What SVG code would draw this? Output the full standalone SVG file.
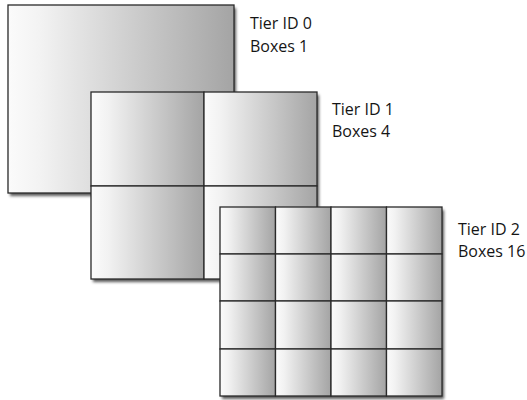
<svg xmlns="http://www.w3.org/2000/svg" width="527" height="400" viewBox="0 0 527 400">
  <defs>
    <linearGradient id="g" x1="0" y1="0" x2="1" y2="0">
      <stop offset="0" stop-color="#fbfbfb"/>
      <stop offset="0.15" stop-color="#f2f2f2"/>
      <stop offset="1" stop-color="#a4a4a4"/>
    </linearGradient>
    <filter id="sh" x="-10%" y="-10%" width="125%" height="125%">
      <feDropShadow dx="2" dy="3" stdDeviation="1.8" flood-color="#000" flood-opacity="0.65"/>
    </filter>
  </defs>
  <style>
    .cell { fill: url(#g); stroke: #2a2a2a; stroke-width: 1.3; }
    .frame { fill: #fff; filter: url(#sh); }
    .lbl { font-family: "Open Sans", "Liberation Sans", sans-serif; font-size: 16px; fill: #151515; }
  </style>
  <rect width="527" height="400" fill="#fff"/>

  <g id="tier0">
    <rect class="frame" x="8" y="5" width="226" height="188"/>
    <rect class="cell" x="8" y="5" width="226" height="188"/>
    <text class="lbl" x="250" y="29">Tier ID 0</text>
    <text class="lbl" x="250" y="52">Boxes 1</text>
  </g>

  <g id="tier1">
    <rect class="frame" x="91" y="92" width="226" height="187"/>
    <rect class="cell" x="91" y="92" width="113" height="94"/>
    <rect class="cell" x="204" y="92" width="113" height="94"/>
    <rect class="cell" x="91" y="186" width="113" height="93"/>
    <rect class="cell" x="204" y="186" width="113" height="93"/>
    <text class="lbl" x="332" y="115">Tier ID 1</text>
    <text class="lbl" x="332" y="137">Boxes 4</text>
  </g>

  <g id="tier2">
    <rect class="frame" x="220" y="207" width="222" height="189"/>
    <rect class="cell" x="220" y="207" width="55.5" height="47"/>
    <rect class="cell" x="275.5" y="207" width="55.5" height="47"/>
    <rect class="cell" x="331" y="207" width="55.5" height="47"/>
    <rect class="cell" x="386.5" y="207" width="55.5" height="47"/>
    <rect class="cell" x="220" y="254" width="55.5" height="47"/>
    <rect class="cell" x="275.5" y="254" width="55.5" height="47"/>
    <rect class="cell" x="331" y="254" width="55.5" height="47"/>
    <rect class="cell" x="386.5" y="254" width="55.5" height="47"/>
    <rect class="cell" x="220" y="301" width="55.5" height="48"/>
    <rect class="cell" x="275.5" y="301" width="55.5" height="48"/>
    <rect class="cell" x="331" y="301" width="55.5" height="48"/>
    <rect class="cell" x="386.5" y="301" width="55.5" height="48"/>
    <rect class="cell" x="220" y="349" width="55.5" height="47"/>
    <rect class="cell" x="275.5" y="349" width="55.5" height="47"/>
    <rect class="cell" x="331" y="349" width="55.5" height="47"/>
    <rect class="cell" x="386.5" y="349" width="55.5" height="47"/>
    <text class="lbl" x="458" y="235">Tier ID 2</text>
    <text class="lbl" x="458" y="257">Boxes 16</text>
  </g>
</svg>
